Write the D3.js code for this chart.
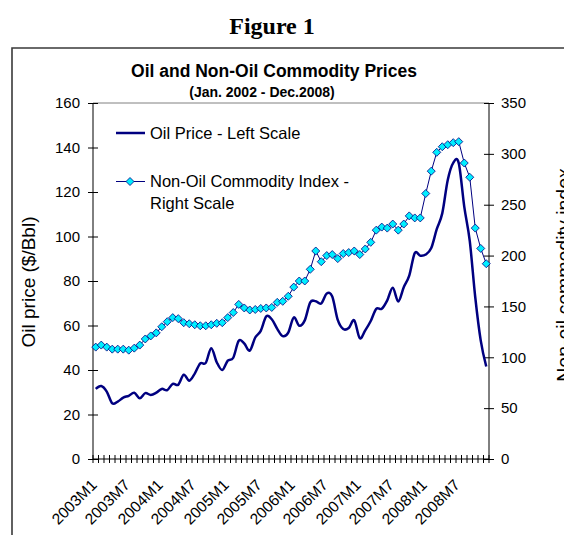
<!DOCTYPE html>
<html><head><meta charset="utf-8">
<script src="https://cdn.jsdelivr.net/npm/d3@7"></script>
<style>body{margin:0;background:#fff}svg{display:block}text{font-family:Arial,"Liberation Sans",sans-serif}</style>
</head><body>
<svg id="c" width="564" height="535"></svg>
<script>
const years = [2003, 2004, 2005, 2006, 2007, 2008];
const months = d3.range(1, 13);
const categories = years.flatMap(y => months.map(m => y + "M" + m));
const tickLabels = ["2003M1","2003M7","2004M1","2004M7","2005M1","2005M7","2006M1","2006M7","2007M1","2007M7","2008M1","2008M7"];
const oilPrice = [
  31.5, 32.8, 30.3, 25.0, 25.8, 27.6, 28.4, 29.8, 27.3, 29.6, 28.8, 29.8,
  31.5, 31.0, 33.8, 33.4, 37.9, 35.2, 38.4, 43.0, 43.2, 49.8, 43.5, 40.0,
  44.2, 45.5, 53.1, 51.9, 48.7, 54.6, 57.6, 64.1, 62.8, 58.5, 55.2, 56.8,
  63.6, 59.9, 62.3, 70.4, 70.9, 69.9, 74.4, 73.0, 62.5, 58.4, 58.9, 62.3,
  54.3, 57.8, 62.0, 67.5, 67.5, 71.3, 77.0, 70.8, 77.2, 82.4, 92.5, 91.4,
  91.9, 94.8, 103.3, 110.4, 125.4, 133.1, 133.0, 113.4, 98.0, 72.7, 53.2, 41.6
];
const nonOilIndex = [
  110, 112, 110, 108, 108, 108, 107, 109, 112, 118, 121, 124,
  130, 135, 139, 138, 134, 133, 132, 131, 131, 132, 133.4, 134,
  139, 144, 152, 148.5, 146.5, 147, 148, 148.5, 149, 154, 155, 160,
  169, 175, 175, 186.5, 204.5, 194, 200, 201, 197, 202, 203, 204.5,
  201, 206.5, 213, 225, 228, 227, 231, 225, 231, 239, 237, 237,
  261, 283, 301.5, 307, 309, 311, 312, 291, 277, 227, 207, 192
];
const leftTicks = [0, 20, 40, 60, 80, 100, 120, 140, 160];
const rightTicks = [0, 50, 100, 150, 200, 250, 300, 350];

const svg = d3.select("#c");
const L = 93, R = 489, T = 103, B = 459;
const x = d3.scaleBand().domain(categories).range([L, R]).padding(0);
const yL = d3.scaleLinear().domain([0, 160]).range([B, T]);
const yR = d3.scaleLinear().domain([0, 350]).range([B, T]);
const cx = d => x(d) + x.bandwidth() / 2;

// frame
svg.append("path").attr("d", `M12,535 V48 H570`).attr("fill", "none").attr("stroke", "#3a3a3a").attr("stroke-width", 1.6);

// titles
svg.append("text").attr("x", 272).attr("y", 34).attr("text-anchor", "middle")
  .style("font-family", "'Liberation Serif',serif").style("font-weight", "bold").style("font-size", "24px").text("Figure 1");
svg.append("text").attr("x", 274).attr("y", 77).attr("text-anchor", "middle")
  .style("font-weight", "bold").style("font-size", "17.5px").text("Oil and Non-Oil Commodity Prices");
svg.append("text").attr("x", 262).attr("y", 97).attr("text-anchor", "middle")
  .style("font-weight", "bold").style("font-size", "14px").text("(Jan. 2002 - Dec.2008)");

// plot top border
svg.append("line").attr("x1", L).attr("x2", R).attr("y1", T).attr("y2", T).attr("stroke", "#808080").attr("stroke-width", 1);

// left axis
const gL = svg.append("g").attr("transform", `translate(${L},0)`)
  .call(d3.axisLeft(yL).tickValues(leftTicks).tickSize(5).tickFormat(d3.format("d")));
gL.selectAll(".tick line").attr("x2", -5).attr("x1", 5);
gL.selectAll(".tick text").attr("x", -13).style("font-size", "15px").style("font-family", "Arial,'Liberation Sans'").attr("fill", "#000");
gL.select(".domain").attr("d", `M0,${T}V${B}`);

// right axis
const gR = svg.append("g").attr("transform", `translate(${R},0)`)
  .call(d3.axisRight(yR).tickValues(rightTicks).tickSize(5).tickFormat(d3.format("d")));
gR.selectAll(".tick line").attr("x1", -5).attr("x2", 5);
gR.selectAll(".tick text").attr("x", 12).style("font-size", "15px").style("font-family", "Arial,'Liberation Sans'").attr("fill", "#000");
gR.select(".domain").attr("d", `M0,${T}V${B}`);

// bottom axis
const gB = svg.append("g").attr("transform", `translate(0,${B})`);
gB.append("line").attr("x1", L).attr("x2", R).attr("stroke", "#000");
const boundaries = categories.map(c => x(c)).concat([R]);
gB.selectAll("line.t").data(boundaries).join("line").attr("class", "t")
  .attr("x1", d => d).attr("x2", d => d).attr("y1", -4).attr("y2", 4).attr("stroke", "#000");
gB.selectAll("text").data(tickLabels).join("text")
  .attr("text-anchor", "end")
  .attr("transform", d => `translate(${cx(d) + 2},27) rotate(-45)`)
  .style("font-size", "15.5px").text(d => d);

// axis titles
svg.append("text").attr("transform", "translate(35,282) rotate(-90)").attr("text-anchor", "middle")
  .style("font-size", "19px").text("Oil price ($/Bbl)");
svg.append("text").attr("transform", "translate(571,275) rotate(-90)").attr("text-anchor", "middle")
  .style("font-size", "19.5px").text("Non-oil commodity index");

// non-oil series
const lineR = d3.line().x((d, i) => cx(categories[i])).y(d => yR(d));
svg.append("path").datum(nonOilIndex).attr("d", lineR).attr("fill", "none").attr("stroke", "#000080").attr("stroke-width", 1);
const diamond = s => `M0,${-s}L${s},0L0,${s}L${-s},0Z`;
svg.selectAll("path.m").data(nonOilIndex).join("path").attr("class", "m")
  .attr("transform", (d, i) => `translate(${cx(categories[i])},${yR(d)})`)
  .attr("d", diamond(4)).attr("fill", "#00eeff").attr("stroke", "#000080").attr("stroke-width", 0.8);

// oil series
const lineL = d3.line().x((d, i) => cx(categories[i])).y(d => yL(d)).curve(d3.curveCardinal.tension(0));
svg.append("path").datum(oilPrice).attr("d", lineL).attr("fill", "none").attr("stroke", "#000080").attr("stroke-width", 2.5);

// legend
svg.append("line").attr("x1", 116).attr("x2", 145).attr("y1", 133).attr("y2", 133).attr("stroke", "#000080").attr("stroke-width", 2.5);
svg.append("text").attr("x", 150).attr("y", 138.5).style("font-size", "16.5px").text("Oil Price - Left Scale");
svg.append("line").attr("x1", 116).attr("x2", 145).attr("y1", 181.5).attr("y2", 181.5).attr("stroke", "#000080").attr("stroke-width", 1);
svg.append("path").attr("transform", "translate(130,181.5)").attr("d", diamond(4)).attr("fill", "#00eeff").attr("stroke", "#000080").attr("stroke-width", 0.8);
svg.append("text").attr("x", 150).attr("y", 187).style("font-size", "16.5px").text("Non-Oil Commodity Index -");
svg.append("text").attr("x", 150).attr("y", 208.5).style("font-size", "16.5px").text("Right Scale");
</script>
</body></html>
